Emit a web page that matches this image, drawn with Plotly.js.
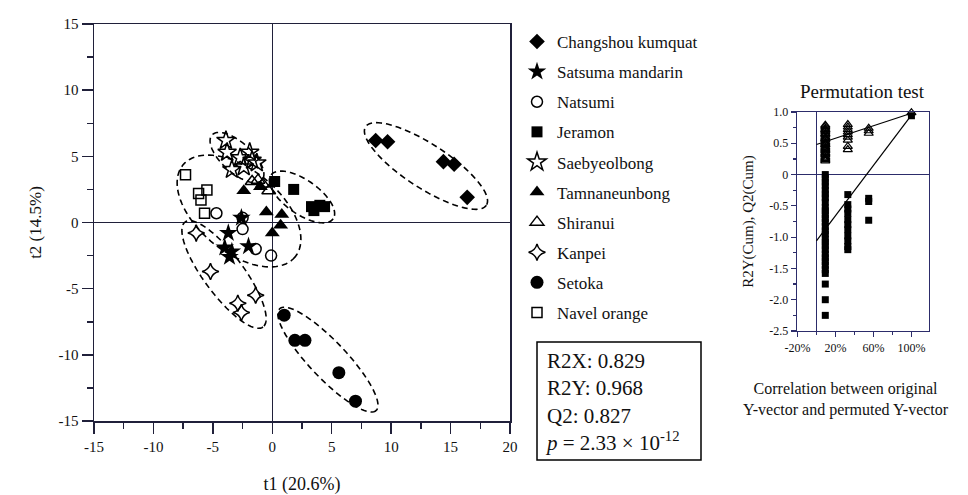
<!DOCTYPE html>
<html>
<head>
<meta charset="utf-8">
<script src="https://cdn.plot.ly/plotly-3.0.1.min.js"></script>
<style>
  html, body { margin: 0; padding: 0; background: #fff; }
  #chart { width: 968px; height: 495px; }
</style>
</head>
<body>
<div id="chart"></div>
<script>
// ---------- Score plot data (t1, t2) ----------
const kumquatX = [8.7, 9.7, 14.4, 15.3, 16.4];
const kumquatY = [6.2, 6.1, 4.6, 4.4, 1.9];
const satsumaX = [-2.6, -3.7, -4.0, -3.6, -3.4, -2.0];
const satsumaY = [0.35, -0.8, -1.9, -2.6, -2.2, -1.8];
const natsumiX = [-4.7, -2.5, -2.5, -1.4, -0.1];
const natsumiY = [0.7, 0.35, -0.5, -2.0, -2.5];
const jeramonX = [0.2, 1.8, 3.3, 3.5, 4.0, 4.4];
const jeramonY = [3.1, 2.5, 1.2, 0.9, 1.3, 1.2];
const saebyeolX = [-3.9, -3.8, -2.7, -1.9, -1.7, -1.3, -3.4, -2.4];
const saebyeolY = [6.2, 5.3, 4.9, 5.3, 4.7, 4.5, 4.0, 4.2];
const tamnaX = [-2.4, -1.0, -0.5, 0.8, 0.7, 0.0];
const tamnaY = [2.4, 2.7, 0.8, 0.6, -0.2, -0.8];
const shiranuiX = [-1.7, -1.2, -0.8, -0.3];
const shiranuiY = [3.1, 3.2, 2.9, 2.4];
const kanpeiX = [-6.4, -5.2, -2.9, -2.6, -1.4];
const kanpeiY = [-0.8, -3.7, -6.1, -6.8, -5.5];
const setokaX = [1.0, 1.9, 2.75, 5.6, 7.0];
const setokaY = [-7.0, -8.9, -8.9, -11.35, -13.5];
const navelX = [-7.3, -6.2, -5.5, -6.0, -5.7];
const navelY = [3.6, 2.2, 2.45, 1.7, 0.7];

// tick labels (plain hyphen minus, as in the reference)
const mainXTicks = [-15, -10, -5, 0, 5, 10, 15, 20];
const mainXTickText = ['-15', '-10', '-5', '0', '5', '10', '15', '20'];
const mainYTicks = [-15, -10, -5, 0, 5, 10, 15];
const mainYTickText = ['-15', '-10', '-5', '0', '5', '10', '15'];

// ---------- Permutation test data ----------
const permR2X1 = [9.3,9.3,9.3,9.3,9.3,9.3,9.3,9.3,9.3,9.3,9.3,9.3,9.3,9.3,9.3,9.3,9.3,9.3,9.3,9.3,9.3,9.3,9.3,9.3,9.3,9.3,9.3,9.3];
const permR2Y1 = [0.79,0.77,0.74,0.72,0.71,0.69,0.66,0.65,0.63,0.6,0.58,0.57,0.55,0.52,0.5,0.48,0.47,0.44,0.42,0.4,0.38,0.35,0.33,0.31,0.28,0.26,0.24,0.22];
const permR2X2 = [33,33,33,33,33,33,33,33,33];
const permR2Y2 = [0.8,0.76,0.72,0.68,0.64,0.6,0.55,0.45,0.4];
const permR2X3 = [55,55,55];
const permR2Y3 = [0.74,0.7,0.66];
const permR2X4 = [100];
const permR2Y4 = [0.99];

const permQ2X1 = [9.3,9.3,9.3,9.3,9.3,9.3,9.3,9.3,9.3,9.3,9.3,9.3,9.3,9.3,9.3,9.3,9.3,9.3,9.3,9.3,9.3,9.3,9.3,9.3,9.3,9.3,9.3,9.3,9.3];
const permQ2Y1 = [0.0,-0.06,-0.12,-0.18,-0.25,-0.31,-0.37,-0.44,-0.53,-0.58,-0.64,-0.7,-0.76,-0.83,-0.9,-0.95,-1.03,-1.08,-1.14,-1.2,-1.27,-1.33,-1.39,-1.45,-1.52,-1.58,-1.75,-2.0,-2.25];
const permQ2X2 = [33,33,33,33,33,33,33,33,33,33,33];
const permQ2Y2 = [-0.32,-0.48,-0.55,-0.62,-0.72,-0.8,-0.88,-0.98,-1.06,-1.15,-1.2];
const permQ2X3 = [55,55,55];
const permQ2Y3 = [-0.38,-0.43,-0.73];
const permQ2X4 = [100];
const permQ2Y4 = [0.94];

const r2LineX = [0, 100];
const r2LineY = [0.48, 0.98];
const q2LineX = [0, 100];
const q2LineY = [-1.06, 0.95];

const permXTicks = [-20, 20, 60, 100];
const permXTickText = ['-20%', '20%', '60%', '100%'];
const permYTicks = [1.0, 0.5, 0, -0.5, -1.0, -1.5, -2.0, -2.5];
const permYTickText = ['1.0', '0.5', '0', '-0.5', '-1.0', '-1.5', '-2.0', '-2.5'];

// ---------- Styling ----------
const SERIF = 'Liberation Serif, Times New Roman, serif';
const INK = '#111111';
const FRAME = '#20203a';
const NAVY = '#2c2c6a';

const mainMk = (symbol, size, open) => ({
  symbol: symbol, size: size, color: '#000',
  line: { color: '#000', width: open ? 1.5 : 0 }
});

function grp(name, x, y, marker) {
  return { type: 'scatter', mode: 'markers', name: name, legendgroup: name,
           x: x, y: y, marker: marker, xaxis: 'x', yaxis: 'y', cliponaxis: false };
}

const traces = [
  grp('Changshou kumquat', kumquatX, kumquatY, mainMk('diamond', 12, false)),
  grp('Satsuma mandarin', satsumaX, satsumaY, mainMk('star', 14, false)),
  grp('Natsumi', natsumiX, natsumiY, mainMk('circle-open', 11, true)),
  grp('Jeramon', jeramonX, jeramonY, mainMk('square', 11, false)),
  grp('Saebyeolbong', saebyeolX, saebyeolY, mainMk('star-open', 14, true)),
  grp('Tamnaneunbong', tamnaX, tamnaY, mainMk('triangle-up', 13, false)),
  grp('Shiranui', shiranuiX, shiranuiY, mainMk('triangle-up-open', 12, true)),
  grp('Kanpei', kanpeiX, kanpeiY, mainMk('star-diamond-open', 12, true)),
  grp('Setoka', setokaX, setokaY, mainMk('circle', 13, false)),
  grp('Navel orange', navelX, navelY, mainMk('square-open', 10, true))
];

function inset(x, y, marker) {
  return { type: 'scatter', mode: 'markers', x: x, y: y, marker: marker,
           xaxis: 'x2', yaxis: 'y2', showlegend: false, hoverinfo: 'skip', cliponaxis: false };
}
const triMk = { symbol: 'triangle-up-open', size: 8, color: '#000', line: { color: '#000', width: 1.2 } };
const sqMk = { symbol: 'square', size: 7, color: '#000', line: { width: 0 } };
traces.push(
  { type: 'scatter', mode: 'lines', x: r2LineX, y: r2LineY, xaxis: 'x2', yaxis: 'y2',
    line: { color: '#000', width: 1.2 }, showlegend: false, hoverinfo: 'skip' },
  { type: 'scatter', mode: 'lines', x: q2LineX, y: q2LineY, xaxis: 'x2', yaxis: 'y2',
    line: { color: '#000', width: 1.2 }, showlegend: false, hoverinfo: 'skip' },
  inset(permQ2X1, permQ2Y1, sqMk), inset(permQ2X2, permQ2Y2, sqMk),
  inset(permQ2X3, permQ2Y3, sqMk), inset(permQ2X4, permQ2Y4, sqMk),
  inset(permR2X1, permR2Y1, triMk), inset(permR2X2, permR2Y2, triMk),
  inset(permR2X3, permR2Y3, triMk), inset(permR2X4, permR2Y4, triMk)
);

// ---------- Dashed confidence ellipses (drawn in data space) ----------
const X_RANGE = [-15, 20], Y_RANGE = [-15, 15];
const MAIN_PX = { l: 94, r: 510, t: 24, b: 421 };
const ky = ((MAIN_PX.b - MAIN_PX.t) / (Y_RANGE[1] - Y_RANGE[0])) /
           ((MAIN_PX.r - MAIN_PX.l) / (X_RANGE[1] - X_RANGE[0]));
const ellipses = [
  { cx: 12.93, cy: 4.27, a: 6.06, b: 1.85, deg: 33 },
  { cx: 4.68, cy: -10.36, a: 5.9, b: 1.55, deg: 46.5 },
  { cx: -4.06, cy: -3.93, a: 5.5, b: 1.68, deg: 53.4 },
  { cx: -2.8, cy: 0.87, a: 6.1, b: 3.47, deg: 39.3 },
  { cx: -2.97, cy: 4.91, a: 2.83, b: 1.26, deg: 42 },
  { cx: 2.5, cy: 1.93, a: 3.2, b: 1.43, deg: 35 }
];
function ellipsePath(e) {
  const th = e.deg * Math.PI / 180;
  let d = '';
  for (let i = 0; i <= 90; i++) {
    const ph = 2 * Math.PI * i / 90;
    const u = e.a * Math.cos(ph) * Math.cos(th) - e.b * Math.sin(ph) * Math.sin(th);
    const v = e.a * Math.cos(ph) * Math.sin(th) + e.b * Math.sin(ph) * Math.cos(th);
    const x = e.cx + u, y = e.cy - v / ky;
    d += (i === 0 ? 'M' : 'L') + x.toFixed(4) + ',' + y.toFixed(4);
  }
  return d + 'Z';
}
const shapes = ellipses.map(e => ({
  type: 'path', xref: 'x', yref: 'y', path: ellipsePath(e),
  line: { color: '#000', width: 1.6, dash: '6px,4px' }, layer: 'above'
}));

const W = 968, H = 495;
const px = v => v / W, py = v => 1 - v / H;

// stats box
shapes.push({ type: 'rect', xref: 'paper', yref: 'paper',
  x0: px(537), x1: px(701), y0: py(460), y1: py(342),
  line: { color: '#000', width: 1.5 }, fillcolor: 'rgba(0,0,0,0)' });

const axBase = {
  showgrid: false, showline: true, linecolor: FRAME, linewidth: 1.5, mirror: true,
  zeroline: true, zerolinecolor: FRAME, zerolinewidth: 1.5,
  ticks: 'outside', tickcolor: FRAME, tickwidth: 1.5, ticklen: 11,
  tickfont: { family: SERIF, size: 15, color: INK }, fixedrange: true
};

const layout = {
  width: W, height: H,
  margin: { l: 0, r: 0, t: 0, b: 0 },
  paper_bgcolor: '#fff', plot_bgcolor: '#fff',
  font: { family: SERIF, color: INK },
  showlegend: true,
  legend: {
    x: px(517), y: py(24), xanchor: 'left', yanchor: 'top',
    font: { family: SERIF, size: 17, color: INK },
    traceorder: 'grouped', tracegroupgap: 5, bgcolor: 'rgba(0,0,0,0)',
    itemclick: false, itemdoubleclick: false
  },
  xaxis: Object.assign({}, axBase, {
    domain: [px(MAIN_PX.l), px(MAIN_PX.r)], range: X_RANGE, anchor: 'y',
    tickvals: mainXTicks, ticktext: mainXTickText,
    minor: { dtick: 2.5, tick0: -15, ticks: 'outside', ticklen: 6, tickwidth: 1.5, tickcolor: FRAME, showgrid: false },
    title: { text: 't1 (20.6%)', font: { family: SERIF, size: 18, color: INK }, standoff: 24 }
  }),
  yaxis: Object.assign({}, axBase, {
    domain: [py(MAIN_PX.b), py(MAIN_PX.t)], range: Y_RANGE, anchor: 'x',
    tickvals: mainYTicks, ticktext: mainYTickText,
    minor: { dtick: 2.5, tick0: -15, ticks: 'outside', ticklen: 6, tickwidth: 1.5, tickcolor: FRAME, showgrid: false },
    title: { text: 't2 (14.5%)', font: { family: SERIF, size: 17, color: INK }, standoff: 12 }
  }),
  xaxis2: {
    domain: [px(797), px(929)], range: [-20.5, 118.5], anchor: 'y2',
    showgrid: false, showline: true, linecolor: NAVY, linewidth: 1.3, mirror: true,
    zeroline: true, zerolinecolor: NAVY, zerolinewidth: 1.3,
    tickvals: permXTicks, ticktext: permXTickText,
    ticks: 'outside', ticklen: 5, tickwidth: 1.2, tickcolor: NAVY,
    minor: { tickvals: [0, 40, 80], ticks: 'outside', ticklen: 3, tickwidth: 1.2, tickcolor: NAVY, showgrid: false },
    tickfont: { family: SERIF, size: 12, color: INK }, fixedrange: true
  },
  yaxis2: {
    domain: [py(331), py(112)], range: [-2.5, 1.0], anchor: 'x2',
    showgrid: false, showline: true, linecolor: NAVY, linewidth: 1.3, mirror: true,
    zeroline: true, zerolinecolor: NAVY, zerolinewidth: 1.3,
    tickvals: permYTicks, ticktext: permYTickText,
    ticks: 'outside', ticklen: 5, tickwidth: 1.2, tickcolor: NAVY,
    minor: { dtick: 0.25, ticks: 'outside', ticklen: 3, tickwidth: 1.2, tickcolor: NAVY, showgrid: false },
    tickfont: { family: SERIF, size: 12, color: INK }, fixedrange: true,
    title: { text: 'R2Y(Cum), Q2(Cum)', font: { family: SERIF, size: 15, color: INK }, standoff: 12 }
  },
  shapes: shapes,
  annotations: [
    { xref: 'paper', yref: 'paper', x: px(862), y: py(92), xanchor: 'center', yanchor: 'middle',
      text: 'Permutation test', showarrow: false, font: { family: SERIF, size: 19, color: INK } },
    { xref: 'paper', yref: 'paper', x: px(846), y: py(399), xanchor: 'center', yanchor: 'middle',
      align: 'center', text: 'Correlation between original<br>Y-vector and permuted Y-vector',
      showarrow: false, font: { family: SERIF, size: 16, color: INK } },
    { xref: 'paper', yref: 'paper', x: px(543), y: py(347), xanchor: 'left', yanchor: 'top', align: 'left',
      text: 'R2X: 0.829<br>R2Y: 0.968<br>Q2: 0.827<br><i>p</i> = 2.33 × 10<sup>-12</sup>',
      showarrow: false, font: { family: SERIF, size: 21, color: INK } }
  ]
};

Plotly.newPlot('chart', traces, layout, { displayModeBar: false, staticPlot: true });
</script>
</body>
</html>
